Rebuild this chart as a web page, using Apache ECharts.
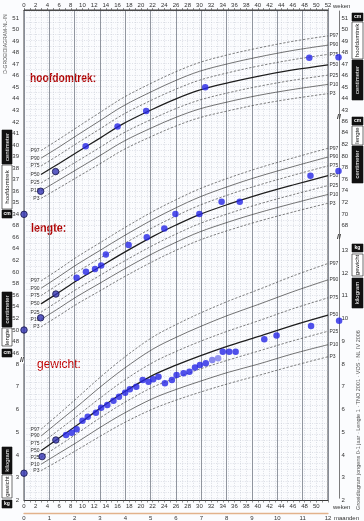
<!DOCTYPE html>
<html><head><meta charset="utf-8">
<script src="https://cdn.jsdelivr.net/npm/echarts@6/dist/echarts.min.js"></script>
<style>html,body{margin:0;padding:0;background:#fff}#c{width:364px;height:521px}</style>
</head><body><div id="c"></div><script>
// ---- data ----
const pctNames = ['P97','P90','P75','P50','P25','P10','P3'];
const curveWeeks = [2.9,6,9,13,17,22,26,30,35,40,46,52];

const headP97 = [39.52,40.51,41.51,42.82,44.11,45.41,46.35,47.14,47.83,48.39,48.98,49.45];
const headP90 = [38.86,39.83,40.82,42.11,43.39,44.67,45.60,46.38,47.05,47.61,48.19,48.65];
const headP75 = [38.19,39.15,40.13,41.40,42.66,43.93,44.84,45.61,46.27,46.83,47.39,47.85];
const headP50 = [37.45,38.40,39.35,40.60,41.85,43.10,44.00,44.75,45.40,45.95,46.50,46.95];
const headP25 = [36.71,37.65,38.57,39.80,41.04,42.27,43.16,43.89,44.53,45.07,45.61,46.05];
const headP10 = [36.04,36.97,37.88,39.09,40.31,41.53,42.40,43.12,43.75,44.29,44.81,45.25];
const headP3  = [35.38,36.29,37.19,38.38,39.59,40.79,41.65,42.36,42.97,43.51,44.02,44.45];

const lenP97 = [58.45,60.50,62.56,65.04,67.51,70.41,72.46,74.32,76.21,77.89,79.66,81.34];
const lenP90 = [57.19,59.23,61.26,63.72,66.17,69.03,71.07,72.91,74.77,76.42,78.17,79.83];
const lenP75 = [55.92,57.94,59.96,62.38,64.81,67.64,69.66,71.48,73.32,74.94,76.67,78.30];
const lenP50 = [54.50,56.50,58.50,60.90,63.30,66.10,68.10,69.90,71.70,73.30,75.00,76.60];
const lenP25 = [53.08,55.06,57.04,59.42,61.79,64.56,66.54,68.32,70.08,71.66,73.33,74.90];
const lenP10 = [51.81,53.77,55.74,58.08,60.43,63.17,65.13,66.89,68.63,70.18,71.83,73.37];
const lenP3  = [50.55,52.50,54.44,56.76,59.09,61.79,63.74,65.48,67.19,68.71,70.34,71.86];

const wtP97 = [5.13,5.81,6.49,7.41,8.26,9.18,9.73,10.22,10.77,11.26,11.87,12.42];
const wtP90 = [4.83,5.48,6.11,6.98,7.78,8.65,9.17,9.63,10.15,10.61,11.18,11.70];
const wtP75 = [4.50,5.11,5.70,6.50,7.26,8.06,8.55,8.98,9.46,9.89,10.43,10.91];
const wtP50 = [4.19,4.75,5.30,6.05,6.75,7.50,7.95,8.35,8.80,9.20,9.70,10.15];
const wtP25 = [3.90,4.42,4.93,5.63,6.28,6.98,7.39,7.77,8.18,8.56,9.02,9.44];
const wtP10 = [3.59,4.08,4.55,5.21,5.82,6.48,6.88,7.23,7.64,7.99,8.45,8.85];
const wtP3  = [3.31,3.76,4.21,4.82,5.40,6.02,6.41,6.75,7.14,7.49,7.92,8.32];

const headWeeks = [0,2.85,5.4,10.55,16.0,20.9,31.0,48.8,53.8];
const headCm    = [34.0,36.0,37.7,39.9,41.6,42.95,45.0,47.55,47.6];

const lengthWeeks = [0,2.85,5.45,9.0,10.6,12.15,13.2,14.0,17.9,21.0,24.0,25.9,30.0,33.8,36.9,49.0,53.8];
const lengthCm    = [50.0,52.1,56.2,59.0,60.05,60.5,61.1,63.0,64.65,66.0,67.5,70.0,70.0,72.1,72.1,76.6,77.4];

const weightWeeks = [0,3.1,5.45,7.2,8.15,9.0,10.0,10.9,12.3,13.2,14.25,15.3,16.25,17.3,18.1,19.2,20.3,21.3,22.1,23.0,24.1,25.3,26.1,27.3,28.3,29.25,30.1,31.1,32.2,33.2,34.0,35.1,36.2,41.1,43.2,49.1,53.9];
const weightKg    = [3.2,3.93,4.66,4.88,4.98,5.13,5.51,5.68,5.86,6.08,6.2,6.39,6.56,6.74,6.89,7.0,7.3,7.22,7.33,7.44,7.15,7.3,7.52,7.59,7.66,7.85,7.96,8.03,8.18,8.25,8.54,8.54,8.54,9.09,9.25,9.67,9.9];

const weekTicks = [0,52];   // week axis extent
const monthTicks = [0,12];  // month axis extent

// ---- build ----
const FONT = '"Liberation Sans", Arial, sans-serif';
const styles = {
  dash: {type:[2.4,1.6], width:0.7, color:'#4a4a4a'},
  solid:{type:'solid', width:0.7, color:'#3a3a3a'},
  mid:  {type:'solid', width:1.25, color:'#1e1e1e'}
};
const styleOf = ['dash','solid','dash','mid','dash','solid','dash'];

function pctSeries(arrs, xi, yi){
  return arrs.map((arr,i)=>{
    const name = pctNames[i];
    return {
      type:'line', name, xAxisIndex:xi, yAxisIndex:yi, smooth:0.35,
      symbol:'circle', symbolSize:0, showSymbol:true, silent:true, z:3,
      lineStyle: styles[styleOf[i]],
      label:{show:false, formatter:name, fontSize:5, color:'#333', fontFamily:FONT},
      data: curveWeeks.map((w,j)=>{
        const it = {value:[w, arr[j]]};
        if (j===0) it.label = {show:true, position:'left', distance:1.5, formatter:name, fontSize:5, color:'#333'};
        if (j===curveWeeks.length-1) it.label = {show:true, position:'right', distance:1.5, formatter:name, fontSize:5, color:'#333'};
        return it;
      })
    };
  });
}
function pts(ws, vs, xi, yi){
  return {
    type:'scatter', xAxisIndex:xi, yAxisIndex:yi, clip:false, z:6, silent:true,
    symbolSize:6.5, itemStyle:{color:'#2525e6'},
    data: ws.map((w,i)=>{
      const it = {value:[w, vs[i]]};
      if (i<3) it.itemStyle = {color:'#3434b4', borderColor:'#16164a', borderWidth:1};
      return it;
    })
  };
}
const wpts = pts(weightWeeks, weightKg, 5, 5);
wpts.data[28].itemStyle = {color:'#6b6bea'};
wpts.data[29].itemStyle = {color:'#7a7aec'};

function rangeFmt(lo, hi, step){
  return v => { const r = Math.round(v); return (Math.abs(v-r)<1e-6 && r>=lo && r<=hi && (r-lo)%step===0) ? String(r) : ''; };
}
const lab = (fmt, margin) => ({fontSize:6, color:'#333', margin, formatter:fmt, fontFamily:FONT, showMinLabel:true, showMaxLabel:true});
const hiddenX = gi => ({type:'value', gridIndex:gi, min:weekTicks[0], max:weekTicks[1], show:false});

const yAx = (gi, pos, min, max, fmt, extra) => Object.assign({
  type:'value', gridIndex:gi, position:pos, min, max, interval:1,
  axisLine:{show:false}, axisTick:{show:false}, splitLine:{show:false},
  axisLabel: lab(fmt, pos==='left'?5:2.5), offset: pos==='right'?11:0
}, extra||{});

// side boxes
function vbox(x,y,w,h,text,dark,rot){
  const els = [{type:'rect', shape:{x,y,width:w,height:h}, style:{fill:dark?'#111':'#fff', stroke:'#111', lineWidth:0.6}}];
  els.push({type:'text', x:x+w/2, y:y+h/2, rotation: rot===false?0:Math.PI/2,
    style:{text, fill:dark?'#fff':'#111', font:(rot===false?'bold 5px ':'6px ')+FONT, align:'center', verticalAlign:'middle'}});
  return els;
}
const g = [];
// right column
g.push(...vbox(352,13,11,8,'cm',true,false), ...vbox(352,22,11,37,'hoofdomtrek',false), ...vbox(352,60,11,40,'centimeter',true));
g.push(...vbox(352,117,11,8,'cm',true,false), ...vbox(352,126,11,19,'lengte',false), ...vbox(352,146,11,37,'centimeter',true));
g.push(...vbox(352,244,11,8,'kg',true,false), ...vbox(352,254,11,22,'gewicht',false), ...vbox(352,278,11,30,'kilogram',true));
// left column
g.push(...vbox(2,130,10,34,'centimeter',true), ...vbox(2,165,10,44,'hoofdomtrek',false), ...vbox(2,210,10,8,'cm',true,false));
g.push(...vbox(2,292,10,35,'centimeter',true), ...vbox(2,328,10,18,'lengte',false), ...vbox(2,349,10,8,'cm',true,false));
g.push(...vbox(2,447,10,27,'kilogram',true), ...vbox(2,475,10,23,'gewicht',false), ...vbox(2,500,10,8,'kg',true,false));
g.push({type:'text', x:6, y:44, rotation:Math.PI/2, style:{text:'D-GROEIDIAGRAM-NL-IN', fill:'#555', font:'5px '+FONT, align:'center', verticalAlign:'middle'}});
g.push({type:'text', x:358, y:420, rotation:Math.PI/2, style:{text:'Groeidiagram jongens 0-1 jaar · Lengte 1 · TNO 2001 · VOS · NL IV 2006', fill:'#555', font:'5.5px '+FONT, align:'center', verticalAlign:'middle'}});
// red panel titles
g.push({type:'text', x:30, y:78, scaleX:0.79, style:{text:'hoofdomtrek:', fill:'#b00000', font:'bold 13px '+FONT, verticalAlign:'middle'}});
g.push({type:'text', x:31, y:228, scaleX:0.83, style:{text:'lengte:', fill:'#b00000', font:'bold 13px '+FONT, verticalAlign:'middle'}});
g.push({type:'text', x:37, y:364, scaleX:0.92, style:{text:'gewicht:', fill:'#c00000', font:'13px '+FONT, verticalAlign:'middle'}});
// unit words after axis ends
g.push({type:'text', x:333, y:6, style:{text:'weken', fill:'#333', font:'6px '+FONT, verticalAlign:'middle'}});
g.push({type:'text', x:333, y:507, style:{text:'weken', fill:'#333', font:'6px '+FONT, verticalAlign:'middle'}});
g.push({type:'text', x:334, y:518, style:{text:'maanden', fill:'#333', font:'6px '+FONT, verticalAlign:'middle'}});
// axis breaks
[[22,360],[339,117],[339,237]].forEach(p=>g.push({type:'text', x:p[0], y:p[1], style:{text:'//', fill:'#222', font:'bold 7px '+FONT, align:'center', verticalAlign:'middle', backgroundColor:'#fff'}}));

const option = {
  animation:false,
  backgroundColor:'#fbfcfe',
  grid:[
    {left:24,right:36,top:10,height:490.5,show:true,borderColor:'#333',borderWidth:0.9,backgroundColor:'transparent'},
    {left:24,right:36,top:12.2,height:213.7},
    {left:24,right:36,top:11,height:487.2},
    {left:24,right:36,top:238.9,height:261.6}
  ],
  xAxis:[
    {type:'value', gridIndex:0, position:'bottom', min:weekTicks[0], max:weekTicks[1], interval:1,
     axisLine:{show:true, lineStyle:{color:'#333', width:0.8}}, axisTick:{show:true, length:2, lineStyle:{color:'#444', width:0.6}},
     axisLabel: lab(rangeFmt(0,50,2), 3),
     splitLine:{show:true, lineStyle:{color:'#c4c9d4', type:[1,1.4], width:0.6}}},
    {type:'value', gridIndex:0, position:'top', min:weekTicks[0], max:weekTicks[1], interval:1,
     axisLine:{show:true, lineStyle:{color:'#333', width:0.8}}, axisTick:{show:true, length:2, lineStyle:{color:'#444', width:0.6}},
     axisLabel: lab(rangeFmt(0,52,2), 1.5), splitLine:{show:false}},
    {type:'value', gridIndex:0, position:'bottom', offset:13, min:monthTicks[0], max:monthTicks[1], interval:1,
     axisLine:{show:true, lineStyle:{color:'#e2b28c', width:1.3}}, axisTick:{show:false},
     axisLabel: lab(rangeFmt(0,12,1), 1.5),
     splitLine:{show:true, lineStyle:{color:'#858a94', width:0.9}}},
    hiddenX(1), hiddenX(2), hiddenX(3)
  ],
  yAxis:[
    {type:'value', gridIndex:0, min:0, max:1, show:false},
    yAx(1,'left',33,51.5,rangeFmt(34,51,1)),
    yAx(1,'right',33,51.5,rangeFmt(43,51,1)),
    yAx(2,'left',21,105,rangeFmt(46,68,2), {splitLine:{show:true, lineStyle:{color:'#c9cdd7', type:[1,1.4], width:0.6}}}),
    yAx(2,'right',21,105,rangeFmt(68,86,2), {axisLine:{show:true, lineStyle:{color:'#444', width:0.7}}}),
    yAx(3,'left',2,13.5,rangeFmt(2,8,1)),
    yAx(3,'right',2,13.5,rangeFmt(2,13,1))
  ],
  graphic:{elements:g},
  series:[
    ...pctSeries([headP97,headP90,headP75,headP50,headP25,headP10,headP3],3,1),
    ...pctSeries([lenP97,lenP90,lenP75,lenP50,lenP25,lenP10,lenP3],4,3),
    ...pctSeries([wtP97,wtP90,wtP75,wtP50,wtP25,wtP10,wtP3],5,5),
    pts(headWeeks, headCm, 3, 1),
    pts(lengthWeeks, lengthCm, 4, 3),
    wpts
  ]
};
echarts.init(document.getElementById('c'),null,{renderer:'canvas'}).setOption(option);
</script></body></html>
